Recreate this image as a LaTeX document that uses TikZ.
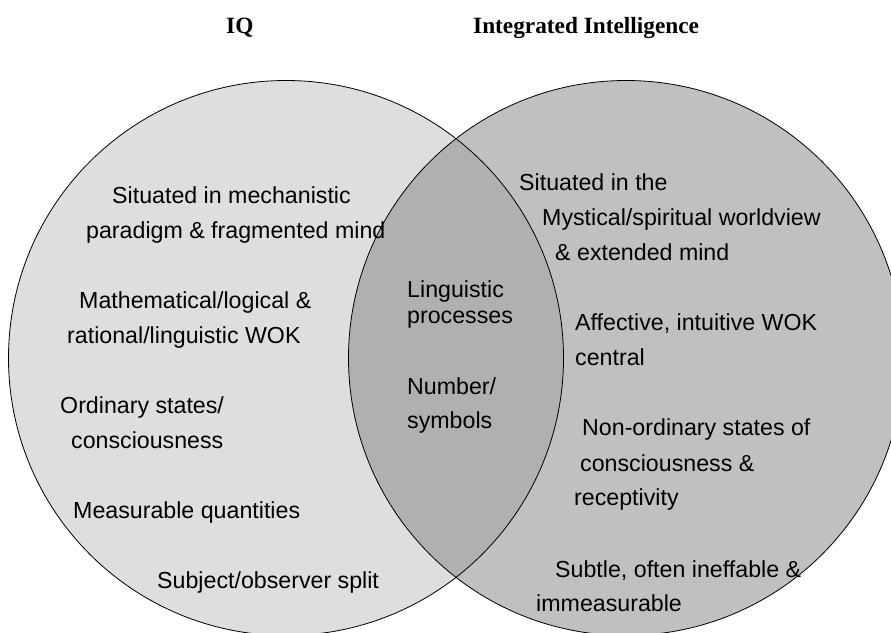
\documentclass[tikz,border=0pt]{standalone}
\usepackage{fontspec}
\setmainfont{Liberation Sans}
\newfontfamily\titlefont{Liberation Serif}
\definecolor{leftgray}{RGB}{222,222,222}
\definecolor{rightgray}{RGB}{192,192,192}
\definecolor{midgray}{RGB}{176,176,176}
\begin{document}
\begin{tikzpicture}[x=1pt,y=-1pt,
  txt/.style={anchor=base west, inner sep=0pt, font=\fontsize{23.2}{28}\selectfont},
  ttl/.style={anchor=base west, inner sep=0pt, font=\titlefont\bfseries\fontsize{23.3}{28}\selectfont},
  ring/.style={draw=black, line width=0.8pt}]
\clip (0,0) rectangle (891,632);
\fill[white] (0,0) rectangle (891,632);

% the two sets and their overlap
\coordinate (cL) at (286,358);
\coordinate (cR) at (626,358);
\fill[leftgray] (cL) circle[radius=277.5];
\fill[rightgray] (cR) circle[radius=277.5];
\begin{scope}
  \clip (cL) circle[radius=277.5];
  \fill[midgray] (cR) circle[radius=277.5];
\end{scope}
\draw[ring] (cL) circle[radius=277.5];
\draw[ring] (cR) circle[radius=277.5];

% headings
\node[ttl] (tIQ) at (226,33) {IQ};
\node[ttl] (tII) at (473,33) {Integrated Intelligence};

% IQ side
\node[txt] (a1) at (112,203) {Situated in mechanistic};
\node[txt] (a2) at (86,238) {paradigm \& fragmented mind};
\node[txt] (b1) at (79,308) {Mathematical/logical \&};
\node[txt] (b2) at (67,343) {rational/linguistic WOK};
\node[txt] (c1) at (60,413) {Ordinary states/};
\node[txt] (c2) at (71,448) {consciousness};
\node[txt] (d1) at (73,518) {Measurable quantities};
\node[txt] (e1) at (157,588) {Subject/observer split};

% shared
\node[txt] (m1) at (407,297) {Linguistic};
\node[txt] (m2) at (407,323) {processes};
\node[txt] (n1) at (407,394) {Number/};
\node[txt] (n2) at (407,428) {symbols};

% integrated intelligence side
\node[txt] (p1) at (519,190) {Situated in the};
\node[txt] (p2) at (542,225) {Mystical/spiritual worldview};
\node[txt] (p3) at (555,260) {\& extended mind};
\node[txt] (q1) at (575,330) {Affective, intuitive WOK};
\node[txt] (q2) at (575,365) {central};
\node[txt] (r1) at (582,435) {Non-ordinary states of};
\node[txt] (r2) at (580,471) {consciousness \&};
\node[txt] (r3) at (574,505) {receptivity};
\node[txt] (s1) at (555,577) {Subtle, often ineffable \&};
\node[txt] (s2) at (536,611) {immeasurable};
\end{tikzpicture}
\end{document}
